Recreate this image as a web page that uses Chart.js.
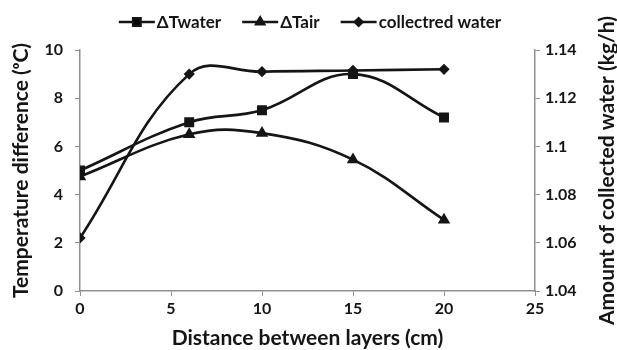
<!DOCTYPE html>
<html>
<head>
<meta charset="utf-8">
<script src="https://cdn.jsdelivr.net/npm/chart.js@4/dist/chart.umd.min.js"></script>
<style>
  body { margin: 0; background: #fff; }
  canvas { display: block; }
</style>
</head>
<body>
<canvas id="chart" width="617" height="350"></canvas>
<script>
// data
const distances = [0, 6, 10, 15, 20];
const deltaTwater = [5.0, 7.0, 7.5, 9.0, 7.2];
const deltaTair = [4.75, 6.5, 6.55, 5.45, 2.95];
const collectedWater = [1.062, 1.130, 1.131, 1.1315, 1.132];

const xTicks = [0, 5, 10, 15, 20, 25];
const leftTicks = [0, 2, 4, 6, 8, 10];
const rightTicks = [1.04, 1.06, 1.08, 1.1, 1.12, 1.14];

const FONT = 'Lato';
const INK = '#151515';
const AXIS = '#8f8f8f';
const rightTitle = 'Amount of collected water (kg/h)';

const toPoints = (xs, ys) => xs.map((x, i) => ({ x: x, y: ys[i] }));

// legend drawn by hand so the line runs through the marker like in Excel
const lineLegend = {
  id: 'lineLegend',
  afterDraw(chart) {
    const ctx = chart.ctx;
    const y = 22;
    const lineLen = 36, gap = 2, spacing = 21;
    ctx.save();
    ctx.font = 'bold 17px ' + FONT;
    const items = chart.data.datasets.map(ds => ({ ds, w: ctx.measureText(ds.label).width }));
    const total = items.reduce((s, it) => s + lineLen + gap + it.w, 0) + spacing * (items.length - 1);
    let x = 310 - total / 2;
    items.forEach(it => {
      const ds = it.ds;
      ctx.strokeStyle = INK;
      ctx.lineWidth = 2.5;
      ctx.beginPath();
      ctx.moveTo(x, y);
      ctx.lineTo(x + lineLen, y);
      ctx.stroke();
      Chart.helpers.drawPoint(ctx, {
        pointStyle: ds.pointStyle,
        radius: ds.pointRadius,
        borderWidth: 1,
        rotation: 0
      }, x + lineLen / 2, y);
      ctx.fillStyle = INK;
      ctx.textBaseline = 'middle';
      ctx.textAlign = 'left';
      ctx.fillText(ds.label, x + lineLen + gap, y + 1);
      x += lineLen + gap + it.w + spacing;
    });

    // right axis title reads bottom-to-top in the original
    const area = chart.chartArea;
    ctx.translate(607, (area.top + area.bottom) / 2);
    ctx.rotate(-Math.PI / 2);
    ctx.font = 'bold 21px ' + FONT;
    ctx.textAlign = 'center';
    ctx.textBaseline = 'middle';
    ctx.fillText(rightTitle, 0, 0);
    ctx.restore();
  }
};

const tickFont = { family: FONT, size: 16, weight: 'bold' };
const titleFont = { family: FONT, size: 21, weight: 'bold', lineHeight: 1.1 };

new Chart(document.getElementById('chart'), {
  type: 'line',
  data: {
    datasets: [
      {
        label: '\u0394Twater',
        data: toPoints(distances, deltaTwater),
        yAxisID: 'y',
        pointStyle: 'rect',
        pointRadius: 5.2
      },
      {
        label: '\u0394Tair',
        data: toPoints(distances, deltaTair),
        yAxisID: 'y',
        pointStyle: 'triangle',
        pointRadius: 4.6
      },
      {
        label: 'collectred water',
        data: toPoints(distances, collectedWater),
        yAxisID: 'y1',
        pointStyle: 'rectRot',
        pointRadius: 3.8
      }
    ].map(ds => Object.assign({
      borderColor: INK,
      backgroundColor: INK,
      pointBackgroundColor: INK,
      pointBorderColor: INK,
      borderWidth: 2.6,
      tension: 0.4,
      fill: false
    }, ds))
  },
  options: {
    responsive: false,
    animation: false,
    devicePixelRatio: 1,
    layout: { padding: { top: 50, left: 0, right: 0, bottom: 0 } },
    plugins: {
      legend: { display: false },
      tooltip: { enabled: false }
    },
    scales: {
      x: {
        type: 'linear',
        min: 0,
        max: 25,
        afterBuildTicks: s => { s.ticks = xTicks.map(v => ({ value: v })); },
        afterFit: s => { s.height = 59; },
        grid: { drawOnChartArea: false, color: AXIS, tickLength: 5, tickColor: AXIS },
        border: { color: AXIS, width: 1.5 },
        ticks: { font: tickFont, color: INK, padding: 3, maxRotation: 0 },
        title: { display: true, text: 'Distance between layers (cm)', font: titleFont, color: INK, padding: { top: 0, bottom: 0 } }
      },
      y: {
        position: 'left',
        min: 0,
        max: 10,
        afterBuildTicks: s => { s.ticks = leftTicks.map(v => ({ value: v })); },
        afterFit: s => { s.width = 80; },
        grid: { drawOnChartArea: false, color: AXIS, tickLength: 5, tickColor: AXIS },
        border: { color: AXIS, width: 1.5 },
        ticks: { font: tickFont, color: INK, padding: 12 },
        title: { display: true, text: 'Temperature difference (\u1D52C)', font: titleFont, color: INK, padding: { top: 10, bottom: 0 } }
      },
      y1: {
        position: 'right',
        min: 1.04,
        max: 1.14,
        afterBuildTicks: s => { s.ticks = rightTicks.map(v => ({ value: v })); },
        afterFit: s => { s.width = 82; },
        grid: { drawOnChartArea: false, color: AXIS, tickLength: 5, tickColor: AXIS },
        border: { color: AXIS, width: 1.5 },
        ticks: { font: tickFont, color: INK, padding: 5, callback: v => String(+v.toFixed(2)) },
        title: { display: false }
      }
    }
  },
  plugins: [lineLegend]
});
</script>
</body>
</html>
